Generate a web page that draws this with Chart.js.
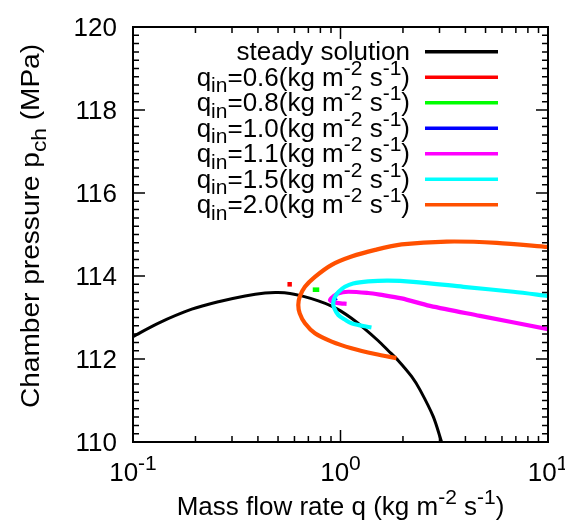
<!DOCTYPE html>
<html>
<head>
<meta charset="utf-8">
<script src="https://cdn.jsdelivr.net/npm/chart.js@4.4.0/dist/chart.umd.min.js"></script>
<style>
  body { margin: 0; background: #fff; }
  canvas { display: block; }
</style>
</head>
<body>
<canvas id="chart" width="565" height="523"></canvas>
<script>
// data (q in kg m-2 s-1, p in MPa)
var steadyQ = [0.1, 0.132, 0.192, 0.258, 0.347, 0.433, 0.5, 0.571, 0.65, 0.782, 0.9, 1.0, 1.13, 1.3, 1.52, 1.7, 1.9, 2.2, 2.42, 2.8, 3.07];
var steadyP = [112.54, 112.86, 113.20, 113.38, 113.52, 113.59, 113.60, 113.58, 113.52, 113.40, 113.28, 113.16, 112.98, 112.74, 112.44, 112.20, 111.96, 111.58, 111.25, 110.61, 110.0];

var q06Q = [0.555, 0.583];
var q06P = [113.80, 113.80];

var q08Q = [0.735, 0.79];
var q08P = [113.67, 113.67];

var q10Q = [0.925, 0.95];
var q10P = [113.48, 113.40];

var q11Q = [10, 4.7, 2.7, 1.97, 1.55, 1.36, 1.09, 0.97, 0.92, 0.89, 0.93, 1.0, 1.07];
var q11P = [112.72, 113.04, 113.28, 113.46, 113.55, 113.59, 113.62, 113.58, 113.50, 113.42, 113.37, 113.34, 113.33];

var q15Q = [10, 6.8, 3.91, 2.24, 1.7, 1.36, 1.15, 1.05, 0.98, 0.941, 0.923, 0.93, 0.976, 1.05, 1.13, 1.27, 1.41];
var q15P = [113.52, 113.62, 113.74, 113.86, 113.89, 113.87, 113.82, 113.74, 113.62, 113.50, 113.36, 113.24, 113.06, 112.95, 112.86, 112.80, 112.76];

var q20Q = [1.86, 1.47, 1.13, 0.907, 0.753, 0.674, 0.636, 0.626, 0.636, 0.674, 0.753, 0.907, 1.13, 1.47, 1.97, 3.25, 5.66, 10];
var q20P = [112.02, 112.12, 112.26, 112.42, 112.62, 112.86, 113.10, 113.30, 113.50, 113.74, 113.98, 114.27, 114.47, 114.63, 114.76, 114.83, 114.80, 114.70];

var seriesNames = ["steady solution", "0.6", "0.8", "1.0", "1.1", "1.5", "2.0"];
var seriesColors = ["#000000", "#ff0000", "#00ff00", "#0000ff", "#ff00ff", "#00ffff", "#ff5000"];

var xTicks = [0.1, 1, 10];
var xTickExp = ["-1", "0", "1"];
var yTicks = [110, 112, 114, 116, 118, 120];

var FONT = '"Liberation Sans", Arial, sans-serif';
var FS = 26;

function pts(qs, ps) {
  return qs.map(function (q, i) { return { x: q, y: ps[i] }; });
}

var allSeries = [
  pts(steadyQ, steadyP), pts(q06Q, q06P), pts(q08Q, q08P), pts(q10Q, q10P),
  pts(q11Q, q11P), pts(q15Q, q15P), pts(q20Q, q20P)
];

var datasets = allSeries.map(function (d, i) {
  var tiny = d.length == 2;
  return {
    label: seriesNames[i],
    data: d,
    showLine: true,
    borderColor: seriesColors[i],
    borderWidth: i == 0 ? 3 : (tiny ? 4.6 : 4.2),
    pointRadius: 0,
    tension: tiny ? 0 : 0.3,
    order: 6 - i
  };
});

// rich text: parts are [text, kind] where kind 0 normal, 1 superscript, -1 subscript
function partFont(kind) {
  return (kind == 0 ? FS : Math.round(FS * 0.8)) + "px " + FONT;
}
function richWidth(ctx, parts) {
  var w = 0;
  parts.forEach(function (p) { ctx.font = partFont(p[1]); w += ctx.measureText(p[0]).width; });
  return w;
}
function drawRich(ctx, parts, x, y, align) {
  var w = richWidth(ctx, parts);
  var cx = align == "right" ? x - w : (align == "center" ? x - w / 2 : x);
  ctx.textAlign = "left";
  ctx.textBaseline = "alphabetic";
  parts.forEach(function (p) {
    ctx.font = partFont(p[1]);
    var dy = p[1] == 1 ? -FS * 0.42 : (p[1] == -1 ? FS * 0.25 : 0);
    ctx.fillText(p[0], cx, y + dy);
    cx += ctx.measureText(p[0]).width;
  });
}

var axesPlugin = {
  id: "gnuplotAxes",
  afterDatasetsDraw: function (chart) {
    var ctx = chart.ctx, a = chart.chartArea;
    var xs = chart.scales.x, ys = chart.scales.y;
    ctx.save();
    ctx.strokeStyle = "#000";
    ctx.fillStyle = "#000";

    // ticks, inward on both sides
    ctx.lineWidth = 1.5;
    ctx.beginPath();
    for (var dec = 0; dec < 2; dec++) {
      for (var m = 1; m <= 10; m++) {
        var v = xTicks[dec] * m;
        var px = xs.getPixelForValue(v);
        var len = (m == 1 || m == 10) ? 12 : 6;
        ctx.moveTo(px, a.bottom); ctx.lineTo(px, a.bottom - len);
        ctx.moveTo(px, a.top); ctx.lineTo(px, a.top + len);
      }
    }
    for (var k = 0; k <= 50; k++) {
      var yv = 110 + k * 0.2;
      var py = ys.getPixelForValue(yv);
      var l = (k % 10 == 0) ? 12 : 6;
      ctx.moveTo(a.left, py); ctx.lineTo(a.left + l, py);
      ctx.moveTo(a.right, py); ctx.lineTo(a.right - l, py);
    }
    ctx.stroke();

    // frame
    ctx.lineWidth = 2;
    ctx.strokeRect(a.left, a.top, a.right - a.left, a.bottom - a.top);

    // tick labels
    yTicks.forEach(function (t) {
      drawRich(ctx, [[String(t), 0]], a.left - 16, ys.getPixelForValue(t) + 9, "right");
    });
    xTicks.forEach(function (t, i) {
      drawRich(ctx, [["10", 0], [xTickExp[i], 1]], xs.getPixelForValue(t), 481, "center");
    });

    // axis titles
    drawRich(ctx, [["Mass flow rate q (kg m", 0], ["-2", 1], [" s", 0], ["-1", 1], [")", 0]],
      (a.left + a.right) / 2, 515, "center");
    ctx.save();
    ctx.translate(39, 226);
    ctx.rotate(-Math.PI / 2);
    ctx.scale(1.08, 1);
    drawRich(ctx, [["Chamber pressure p", 0], ["ch", -1], [" (MPa)", 0]], 0, 0, "center");
    ctx.restore();

    // legend (right-aligned text, line sample on the right)
    seriesNames.forEach(function (name, i) {
      var cy = 51.7 + i * 25.5;
      var parts = i == 0 ? [[name, 0]] :
        [["q", 0], ["in", -1], ["=" + name + "(kg m", 0], ["-2", 1], [" s", 0], ["-1", 1], [")", 0]];
      drawRich(ctx, parts, 410, cy + 8.5, "right");
      ctx.strokeStyle = seriesColors[i];
      ctx.lineWidth = 3.5;
      ctx.beginPath();
      ctx.moveTo(425, cy); ctx.lineTo(498, cy);
      ctx.stroke();
    });
    ctx.restore();
  }
};

new Chart(document.getElementById("chart"), {
  type: "scatter",
  data: { datasets: datasets },
  options: {
    responsive: false,
    animation: false,
    layout: { padding: { left: 133, right: 17, top: 27, bottom: 81 } },
    plugins: { legend: { display: false }, tooltip: { enabled: false } },
    scales: {
      x: { type: "logarithmic", min: 0.1, max: 10, display: false },
      y: { type: "linear", min: 110, max: 120, display: false }
    }
  },
  plugins: [axesPlugin]
});
</script>
</body>
</html>
